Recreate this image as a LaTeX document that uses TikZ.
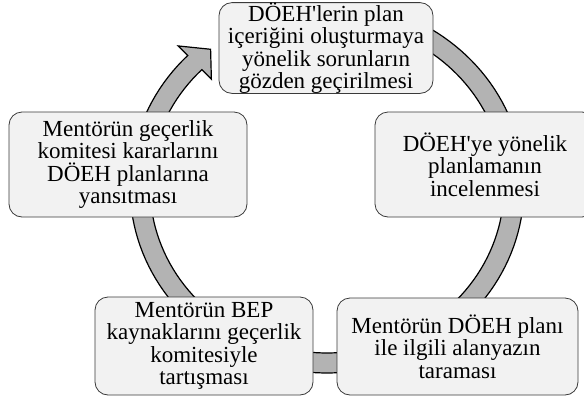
\documentclass[tikz,border=0pt]{standalone}
\usepackage{fontspec}
\newfontfamily\boxfont{Liberation Serif}
\definecolor{boxfill}{HTML}{F2F2F2}
\definecolor{bandfill}{HTML}{B3B3B3}
\definecolor{boxline}{HTML}{3A3A3A}
\tikzset{
  stepbox/.style={draw=boxline, fill=boxfill, rounded corners=13pt, line width=0.8pt,
    align=center, inner sep=0pt, font=\boxfont\fontsize{23}{22.4}\selectfont},
  band/.style={draw=black, fill=bandfill, line width=1.2pt, line join=miter}
}
\begin{document}
\begin{tikzpicture}[x=1pt,y=-1pt]
\useasboundingbox (0,0) rectangle (584,397);
\clip (0,0) rectangle (584,397);
% circular arrow running clockwise behind the boxes
\draw[band]
  plot[domain=80:-225,samples=140] ({327+197*cos(\x)},{187-186*sin(\x)})
  -- ({327+210.5*cos(135)},{187-199.5*sin(135)})
  -- ({327+187*cos(128.5)},{187-176*sin(128.5)})
  -- ({327+163.5*cos(135)},{187-152.5*sin(135)})
  -- plot[domain=-225:80,samples=140] ({327+177*cos(\x)},{187-166*sin(\x)})
  -- cycle;
% the five steps
\node[stepbox, minimum width=214pt, minimum height=90pt] (nT) at (326,48)
  {DÖEH'lerin plan\\içeriğini oluşturmaya\\yönelik sorunların\\gözden geçirilmesi};
\node[stepbox, minimum width=220pt, minimum height=105pt] (nR) at (485,164.5)
  {DÖEH'ye yönelik\\planlamanın\\incelenmesi};
\node[stepbox, minimum width=241pt, minimum height=97pt] (nBR) at (457.5,346.5)
  {Mentörün DÖEH planı\\ile ilgili alanyazın\\taraması};
\node[stepbox, minimum width=218pt, minimum height=98pt] (nBL) at (204,346)
  {Mentörün BEP\\kaynaklarını geçerlik\\komitesiyle\\tartışması};
\node[stepbox, minimum width=238pt, minimum height=105pt] (nL) at (128,164.5)
  {Mentörün geçerlik\\komitesi kararlarını\\DÖEH planlarına\\yansıtması};
\end{tikzpicture}
\end{document}
